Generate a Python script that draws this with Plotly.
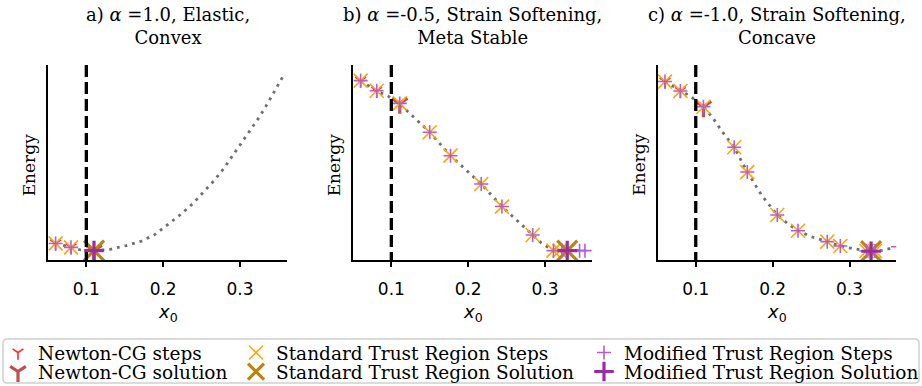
import plotly.graph_objects as go

# ---------------- data (energy in arbitrary units: 0 = bottom of axes, 1 = top) ----------------
x_crit = 0.1  # dashed vertical line position

# Panel a) alpha = 1.0, elastic, convex
a_curve_x = [0.06, 0.08, 0.091, 0.11, 0.122, 0.131, 0.152, 0.172, 0.189, 0.207, 0.223, 0.238,
             0.252, 0.267, 0.279, 0.291, 0.303, 0.314, 0.326, 0.337, 0.347, 0.357]
a_curve_E = [0.085, 0.065, 0.053, 0.048, 0.051, 0.055, 0.074, 0.097, 0.13, 0.183, 0.234, 0.287,
             0.349, 0.41, 0.47, 0.538, 0.605, 0.672, 0.738, 0.81, 0.88, 0.949]
a_newton_x, a_newton_E = [0.06, 0.08], [0.085, 0.065]
a_newton_sol_x, a_newton_sol_E = [0.11], [0.048]
a_std_x, a_std_E = [0.06, 0.08, 0.11], [0.085, 0.065, 0.048]
a_std_sol_x, a_std_sol_E = [0.11], [0.048]
a_mod_x, a_mod_E = [0.06, 0.08, 0.11], [0.085, 0.065, 0.048]
a_mod_sol_x, a_mod_sol_E = [0.11], [0.048]

# Panel b) alpha = -0.5, strain softening, meta stable
b_curve_x = [0.06, 0.08, 0.096, 0.11, 0.13, 0.15, 0.177, 0.2, 0.217, 0.244, 0.265, 0.284,
             0.295, 0.305, 0.315, 0.325, 0.335, 0.345, 0.352]
b_curve_E = [0.92, 0.868, 0.84, 0.803, 0.73, 0.655, 0.535, 0.451, 0.39, 0.274, 0.197, 0.128,
             0.088, 0.062, 0.052, 0.048, 0.048, 0.049, 0.05]
b_newton_x, b_newton_E = [0.06, 0.081], [0.92, 0.868]
b_newton_sol_x, b_newton_sol_E = [0.111], [0.803]
b_std_x = [0.06, 0.081, 0.111, 0.15, 0.177, 0.217, 0.244, 0.284, 0.311, 0.319]
b_std_E = [0.92, 0.868, 0.803, 0.655, 0.535, 0.39, 0.274, 0.128, 0.048, 0.048]
b_std_sol_x, b_std_sol_E = [0.329], [0.048]
b_mod_x = [0.06, 0.081, 0.111, 0.15, 0.177, 0.217, 0.244, 0.284, 0.311, 0.322, 0.345, 0.352]
b_mod_E = [0.92, 0.868, 0.803, 0.655, 0.535, 0.39, 0.274, 0.128, 0.048, 0.048, 0.048, 0.048]
b_mod_sol_x, b_mod_sol_E = [0.329], [0.048]

# Panel c) alpha = -1.0, strain softening, concave
c_curve_x = [0.06, 0.08, 0.093, 0.11, 0.122, 0.134, 0.15, 0.167, 0.186, 0.206, 0.22, 0.233,
             0.25, 0.271, 0.288, 0.305, 0.316, 0.328, 0.341, 0.35, 0.358]
c_curve_E = [0.915, 0.867, 0.84, 0.786, 0.73, 0.66, 0.578, 0.451, 0.33, 0.231, 0.185, 0.15,
             0.12, 0.094, 0.072, 0.058, 0.05, 0.045, 0.048, 0.056, 0.065]
c_newton_x, c_newton_E = [0.06, 0.08], [0.915, 0.867]
c_newton_sol_x, c_newton_sol_E = [0.11], [0.786]
c_std_x = [0.06, 0.08, 0.11, 0.15, 0.167, 0.206, 0.233, 0.271, 0.288, 0.322, 0.333]
c_std_E = [0.915, 0.867, 0.786, 0.578, 0.451, 0.231, 0.15, 0.094, 0.072, 0.046, 0.046]
c_std_sol_x, c_std_sol_E = [0.328], [0.045]
c_mod_x = [0.06, 0.08, 0.11, 0.15, 0.167, 0.206, 0.233, 0.271, 0.288, 0.322, 0.333, 0.363]
c_mod_E = [0.915, 0.867, 0.786, 0.578, 0.451, 0.231, 0.15, 0.094, 0.072, 0.046, 0.046, 0.068]
c_mod_sol_x, c_mod_sol_E = [0.328], [0.045]

titles = ["a) <i>α</i> =1.0, Elastic,<br>Convex",
          "b) <i>α</i> =-0.5, Strain Softening,<br>Meta Stable",
          "c) <i>α</i> =-1.0, Strain Softening,<br>Concave"]
tick_vals = [0.1, 0.2, 0.3]
tick_text = ["0.1", "0.2", "0.3"]
x_range = [0.0505, 0.3608]
y_range = [0, 1]

# ---------------- styling ----------------
W, H = 922, 386
SERIF = "DejaVu Serif"
SANS = "DejaVu Sans"
panel_px = [(48.3, 286.7), (353.3, 591.7), (657.7, 896.3)]
y_top_px, y_bot_px = 65, 260

# legend slot positions (legend left edge px, row centre px)
styles = {
    "newton": dict(name="Newton-CG steps", symbol="y-down", color="#ff2a2a", size=9, lw=1.6,
                   legend="legend", lx=-2, ly=353),
    "newton_sol": dict(name="Newton-CG solution", symbol="y-down", color="#c0504d", size=13, lw=3.2,
                       legend="legend2", lx=-2, ly=372),
    "std": dict(name="Standard Trust Region Steps", symbol="x-thin", color="#ffa500", size=14, lw=1.6,
                legend="legend3", lx=236, ly=353),
    "std_sol": dict(name="Standard Trust Region Solution", symbol="x-thin", color="#b8860b", size=20, lw=3.2,
                    legend="legend4", lx=236, ly=372),
    "mod": dict(name="Modified Trust Region Steps", symbol="cross-thin", color="#b45ae0", size=10, lw=1.6,
                legend="legend5", lx=584, ly=353),
    "mod_sol": dict(name="Modified Trust Region Solution", symbol="cross-thin", color="#9b2aa8", size=14, lw=3.2,
                    legend="legend6", lx=584, ly=372),
}

panels = [
    dict(cx=a_curve_x, cE=a_curve_E, newton=(a_newton_x, a_newton_E), newton_sol=(a_newton_sol_x, a_newton_sol_E),
         std=(a_std_x, a_std_E), std_sol=(a_std_sol_x, a_std_sol_E), mod=(a_mod_x, a_mod_E), mod_sol=(a_mod_sol_x, a_mod_sol_E)),
    dict(cx=b_curve_x, cE=b_curve_E, newton=(b_newton_x, b_newton_E), newton_sol=(b_newton_sol_x, b_newton_sol_E),
         std=(b_std_x, b_std_E), std_sol=(b_std_sol_x, b_std_sol_E), mod=(b_mod_x, b_mod_E), mod_sol=(b_mod_sol_x, b_mod_sol_E)),
    dict(cx=c_curve_x, cE=c_curve_E, newton=(c_newton_x, c_newton_E), newton_sol=(c_newton_sol_x, c_newton_sol_E),
         std=(c_std_x, c_std_E), std_sol=(c_std_sol_x, c_std_sol_E), mod=(c_mod_x, c_mod_E), mod_sol=(c_mod_sol_x, c_mod_sol_E)),
]

fig = go.Figure()
layout = dict(width=W, height=H, margin=dict(l=0, r=0, t=0, b=0, autoexpand=False),
              paper_bgcolor="white", plot_bgcolor="white", annotations=[], shapes=[])

for i, p in enumerate(panels):
    xa = "x" if i == 0 else f"x{i+1}"
    ya = "y" if i == 0 else f"y{i+1}"
    xkey = "xaxis" if i == 0 else f"xaxis{i+1}"
    ykey = "yaxis" if i == 0 else f"yaxis{i+1}"
    l, r = panel_px[i]
    layout[xkey] = dict(domain=[l / W, r / W], range=x_range, anchor=ya, showgrid=False, zeroline=False,
                        showline=True, linecolor="black", linewidth=2, ticks="outside", ticklen=5,
                        tickwidth=1.6, tickcolor="black", tickvals=tick_vals, ticktext=tick_text,
                        tickfont=dict(family=SANS, size=17, color="black"), ticklabelstandoff=8)
    layout[ykey] = dict(domain=[(H - y_bot_px) / H, (H - y_top_px) / H], range=y_range, anchor=xa,
                        showgrid=False, zeroline=False, showline=True, linecolor="black", linewidth=2,
                        showticklabels=False, ticks="")
    # energy curve
    fig.add_trace(go.Scatter(x=p["cx"], y=p["cE"], mode="lines", xaxis=xa, yaxis=ya, showlegend=False,
                             line=dict(color="#6e6e6e", width=2.8, dash="2.8px,5px"), hoverinfo="skip"))
    # dashed vertical line at x_crit
    layout["shapes"].append(dict(type="line", xref=xa, yref=f"{ya} domain", x0=x_crit, x1=x_crit, y0=1, y1=0,
                                 line=dict(color="black", width=3.3, dash="12px,5px"), layer="above"))
    for key in ["newton", "newton_sol", "std", "std_sol", "mod", "mod_sol"]:
        s = styles[key]
        xs, Es = p[key]
        fig.add_trace(go.Scatter(x=xs, y=Es, mode="markers", xaxis=xa, yaxis=ya, name=s["name"],
                                 showlegend=(i == 0), legend=s["legend"],
                                 marker=dict(symbol=s["symbol"], size=s["size"], color=s["color"],
                                             line=dict(color=s["color"], width=s["lw"]))))
    cx_px = (l + r) / 2
    layout["annotations"].append(dict(text=titles[i], xref="paper", yref="paper", x=cx_px / W, y=1 - 2 / H,
                                      xanchor="center", yanchor="top", showarrow=False,
                                      font=dict(family=SERIF, size=18, color="black")))
    layout["annotations"].append(dict(text="<i>x</i><sub>0</sub>", xref="paper", yref="paper", x=cx_px / W,
                                      y=(H - 313) / H, xanchor="center", yanchor="middle", showarrow=False,
                                      font=dict(family=SANS, size=18, color="black")))
    layout["annotations"].append(dict(text="Energy", xref="paper", yref="paper", x=(l - 19) / W,
                                      y=(H - 165) / H, xanchor="center", yanchor="middle", textangle=-90,
                                      showarrow=False, font=dict(family=SERIF, size=17, color="black")))

# legend frame (rounded rectangle)
x0, x1, y0, y1, rr = 3 / W, 919 / W, (H - 383) / H, (H - 339) / H, 4
rx, ry = rr / W, rr / H
path = (f"M{x0+rx},{y1} L{x1-rx},{y1} Q{x1},{y1} {x1},{y1-ry} L{x1},{y0+ry} Q{x1},{y0} {x1-rx},{y0} "
        f"L{x0+rx},{y0} Q{x0},{y0} {x0},{y0+ry} L{x0},{y1-ry} Q{x0},{y1} {x0+rx},{y1} Z")
layout["shapes"].append(dict(type="path", xref="paper", yref="paper", path=path,
                             line=dict(color="#cfcfcf", width=1.5), fillcolor="rgba(255,255,255,0.8)", layer="below"))

for key, s in styles.items():
    layout[s["legend"]] = dict(orientation="v", xanchor="left", yanchor="middle",
                               x=s["lx"] / W, y=(H - s["ly"]) / H, bgcolor="rgba(0,0,0,0)",
                               borderwidth=0, font=dict(family=SERIF, size=18.5, color="black"),
                               itemwidth=30)

fig.update_layout(**layout)
fig.write_html("out.html")
